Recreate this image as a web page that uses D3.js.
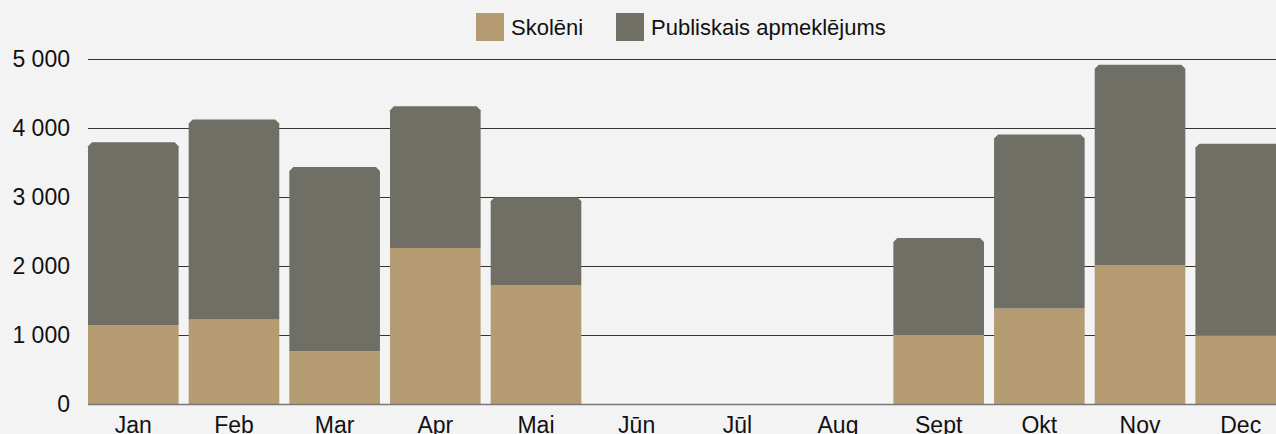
<!DOCTYPE html>
<html>
<head>
<meta charset="utf-8">
<script src="https://cdn.jsdelivr.net/npm/d3@7"></script>
<style>
  body{margin:0;background:#f3f3f3;overflow:hidden;}
  svg{display:block;font-family:"Liberation Sans",Arial,sans-serif;}
</style>
</head>
<body>
<svg width="1276" height="434"></svg>
<script>
// months, series values, ticks
var months=["Jan","Feb","Mar","Apr","Mai","Jūn","Jūl","Aug","Sept","Okt","Nov","Dec"];
var skoleni=[1140,1225,765,2260,1725,0,0,0,1000,1385,2010,995];
var publiskais=[2655,2900,2670,2055,1270,0,0,0,1405,2520,2905,2775];
var seriesNames=["Skolēni","Publiskais apmeklējums"];
var seriesColours=["#b49b72","#6f6f65"];
var yTicks=[0,1000,2000,3000,4000,5000];

var svg=d3.select("svg");

var x=d3.scaleBand().domain(months).range([88,1286]).paddingInner(0.1).paddingOuter(0).align(0);
var y=d3.scaleLinear().domain([0,5000]).range([404,59]);

// gridlines
svg.append("g").selectAll("line").data(yTicks.filter(d=>d>0)).enter().append("line")
	.attr("x1",88).attr("x2",1276)
	.attr("y1",d=>Math.round(y(d))+0.5).attr("y2",d=>Math.round(y(d))+0.5)
	.attr("stroke","#333").attr("stroke-width",1);

// y labels
svg.append("g").selectAll("text").data(yTicks).enter().append("text")
	.attr("x",70).attr("y",d=>y(d)).attr("dy","0.35em")
	.attr("text-anchor","end").attr("font-size",23).attr("fill","#111")
	.text(d=>d==0?"0":Math.floor(d/1000)+" 000");

// stacked bars
var rows=months.map(function(m,i){return {month:m,s:skoleni[i],p:publiskais[i]};});
var stack=d3.stack().keys(["s","p"])(rows);

function barPath(x0,w,yTop,yBot,bevel)
{
	var b=bevel?Math.min(4,yBot-yTop):0;
	return "M"+x0+","+yBot+"L"+x0+","+(yTop+b)+"L"+(x0+b)+","+yTop+
		"L"+(x0+w-b)+","+yTop+"L"+(x0+w)+","+(yTop+b)+"L"+(x0+w)+","+yBot+"Z";
}

stack.forEach(function(layer,k){
	svg.append("g").selectAll("path").data(layer.filter(d=>d[1]>d[0])).enter().append("path")
		.attr("d",function(d){
			var top=k==1||d.data.p==0;
			return barPath(x(d.data.month),x.bandwidth(),y(d[1]),y(d[0]),top);
		})
		.attr("fill",seriesColours[k]);
});

// baseline
svg.append("line").attr("x1",88).attr("x2",1276).attr("y1",404.5).attr("y2",404.5)
	.attr("stroke","#777").attr("stroke-width",1.5);

// x labels
svg.append("g").selectAll("text").data(months).enter().append("text")
	.attr("x",d=>x(d)+x.bandwidth()/2).attr("y",433)
	.attr("text-anchor","middle").attr("font-size",23).attr("fill","#111")
	.text(d=>d);

// legend
var legX=[476,616];
seriesNames.forEach(function(n,i){
	svg.append("rect").attr("x",legX[i]).attr("y",13).attr("width",28).attr("height",28).attr("fill",seriesColours[i]);
	svg.append("text").attr("x",legX[i]+35).attr("y",35)
		.attr("font-size",22).attr("fill","#111").text(n);
});
</script>
</body>
</html>
